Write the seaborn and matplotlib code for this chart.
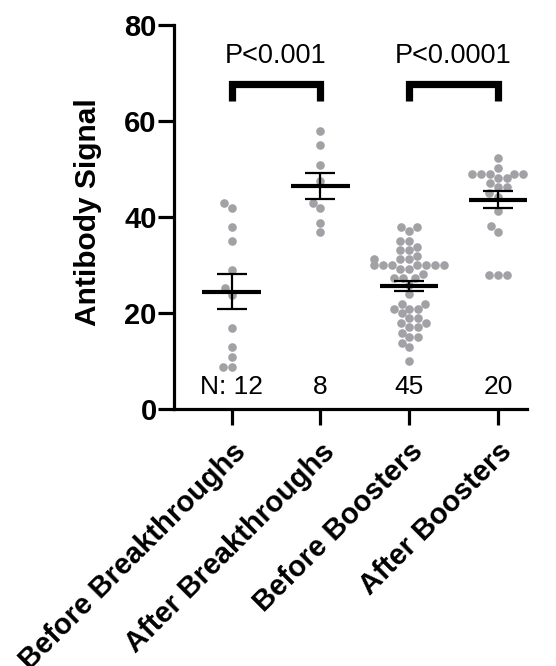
import numpy as np
import pandas as pd
import matplotlib
matplotlib.use('Agg')
import matplotlib.pyplot as plt
import seaborn as sns

groups = ['Before Breakthroughs', 'After Breakthroughs', 'Before Boosters', 'After Boosters']

before_breakthroughs = [42.8, 41.8, 37.8, 34.9, 29.0, 25.1, 23.8, 16.8, 12.8, 10.9, 8.8, 8.8]
after_breakthroughs = [57.9, 54.9, 50.8, 47.4, 42.8, 41.9, 38.8, 36.8]
before_boosters = [37.8, 37.8, 37.1, 35.0, 35.0, 33.8, 33.1, 33.1, 31.9, 31.2, 31.2, 31.2,
                   30.0, 30.0, 30.0, 30.0, 30.0, 30.0, 30.0, 29.2, 29.2, 28.1, 27.2, 27.2,
                   27.2, 25.8, 24.0, 21.9, 21.9, 20.8, 20.8, 20.8, 19.9, 18.9, 18.9, 17.8,
                   17.8, 17.0, 17.0, 15.9, 14.9, 14.9, 13.8, 12.8, 9.9]
after_boosters = [52.2, 50.1, 49.0, 49.0, 49.0, 49.0, 49.0, 48.0, 48.0, 47.0, 46.1, 46.1,
                  44.9, 44.2, 41.1, 38.0, 36.9, 27.9, 27.9, 27.9]

comparisons = [(0, 1, 'P<0.001'), (2, 3, 'P<0.0001')]

values = [before_breakthroughs, after_breakthroughs, before_boosters, after_boosters]
df = pd.DataFrame({
    'Group': np.repeat(groups, [len(v) for v in values]),
    'Signal': np.concatenate(values),
})

sns.set_theme(style='ticks')
plt.rcParams['font.family'] = ['Liberation Sans', 'DejaVu Sans']
plt.rcParams['text.color'] = 'black'
plt.rcParams['axes.labelcolor'] = 'black'
plt.rcParams['xtick.color'] = 'black'
plt.rcParams['ytick.color'] = 'black'

fig = plt.figure(figsize=(5.56, 6.66), dpi=100)
ax = fig.add_axes([0.313, 0.386, 0.635, 0.577])

sns.swarmplot(data=df, x='Group', y='Signal', order=groups, color='#a2a2a6',
              size=6.2, ax=ax, zorder=1)

# mean +/- SEM
for i, v in enumerate(values):
    arr = np.array(v)
    m = arr.mean()
    sem = arr.std(ddof=1) / np.sqrt(len(arr))
    ax.hlines(m, i - 0.33, i + 0.33, color='black', linewidth=3, zorder=3)
    ax.errorbar(i, m, yerr=sem, color='black', capsize=10.5, capthick=1.6,
                elinewidth=1.6, fmt='none', zorder=3)

# significance brackets
for a, b, label in comparisons:
    ax.plot([a, a, b, b], [64, 67.6, 67.6, 64], color='black', linewidth=5.2,
            solid_joinstyle='miter', solid_capstyle='butt', zorder=3)
    ax.text((a + b) / 2, 70.8, label, ha='center', va='bottom', fontsize=19.5)

# sample sizes
for i, v in enumerate(values):
    txt = f'N: {len(v)}' if i == 0 else str(len(v))
    ax.text(i, 2.0, txt, ha='center', va='bottom', fontsize=19)

ax.set_xlim(-0.65, 3.33)
ax.set_ylim(0, 80)
ax.set_yticks([0, 20, 40, 60, 80])
ax.set_xlabel('')
ax.set_ylabel('Antibody Signal', fontsize=21.5, fontweight='bold')
ax.yaxis.set_label_coords(-0.204, 0.513)

sns.despine(ax=ax)
for side in ['left', 'bottom']:
    ax.spines[side].set_linewidth(2.3)
    ax.spines[side].set_color('black')
ax.tick_params(axis='both', length=11.5, width=2.3, color='black')
ax.tick_params(axis='y', labelsize=21, pad=1)
ax.tick_params(axis='x', labelsize=21, pad=9)
for lbl in ax.get_yticklabels():
    lbl.set_fontweight('bold')
for lbl in ax.get_xticklabels():
    lbl.set_fontweight('bold')
    lbl.set_rotation(45)
    lbl.set_ha('right')
    lbl.set_rotation_mode('anchor')

fig.savefig('out.png', dpi=100)
